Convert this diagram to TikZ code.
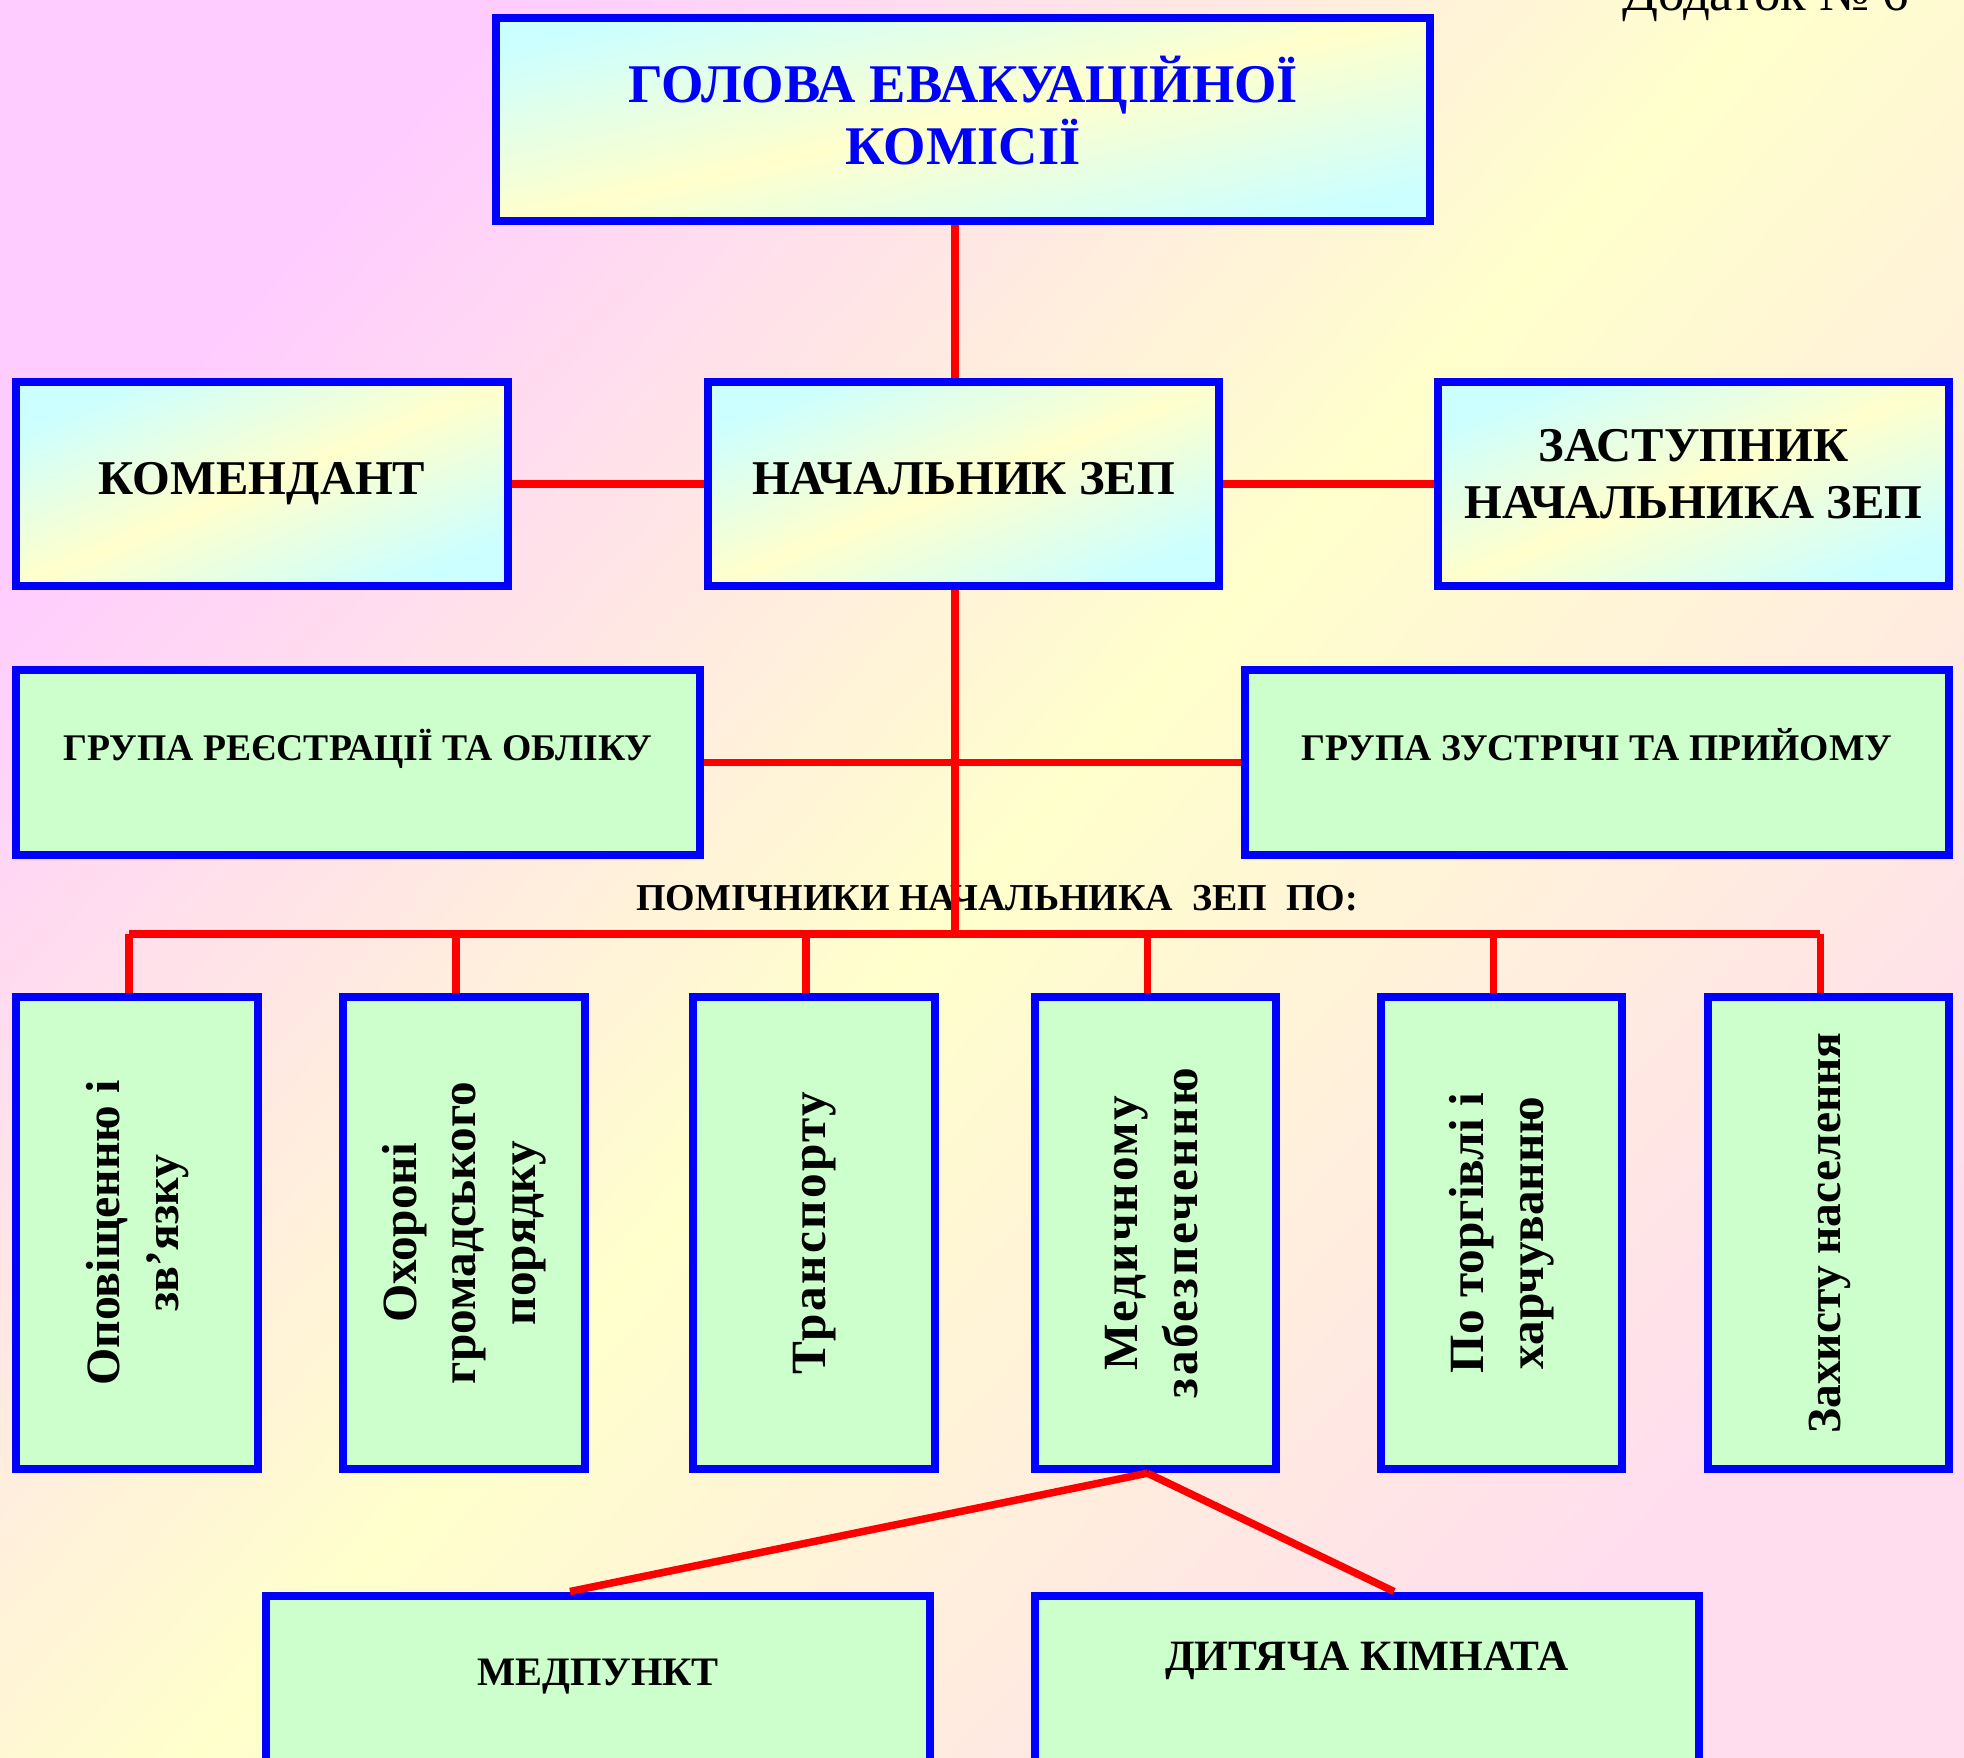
\documentclass[tikz,border=0pt]{standalone}
\usepackage{fontspec}
\setmainfont{Liberation Serif}
\usetikzlibrary{positioning}

\definecolor{bgpink}{HTML}{FFCCFF}
\definecolor{bgyellow}{HTML}{FFFFCC}
\definecolor{bgrose}{HTML}{FFDDEE}
\definecolor{boxcyan}{HTML}{CCFFFF}
\definecolor{boxyellow}{HTML}{FFFFCC}
\definecolor{boxgreen}{HTML}{CCFFCC}
\definecolor{boxblue}{HTML}{0000FF}
\definecolor{linkred}{HTML}{FF0000}

\newcommand{\vlabel}[1]{\rotatebox{90}{\begin{tabular}{@{}c@{}}#1\end{tabular}}}
\newcommand{\wide}[1]{\addfontfeature{LetterSpace=#1}}

\begin{document}
\begin{tikzpicture}[x=0.01cm, y=-0.01cm,
    linestyle/.style={draw=linkred, line width=0.075cm},
    frame/.style={rectangle, draw=boxblue, line width=0.08cm, inner sep=0pt, align=center},
    leader/.style={frame, top color=boxcyan, bottom color=boxcyan, middle color=boxyellow,
        shading angle=21.8, minimum width=5.11cm, minimum height=2.04cm,
        text height=0.34cm, text depth=0.14cm,
        font=\bfseries\fontsize{13.8}{16}\selectfont},
    group/.style={frame, fill=boxgreen, font=\bfseries\fontsize{10.7}{13}\selectfont},
    assist/.style={group, minimum width=2.41cm, minimum height=4.72cm,
        font=\bfseries\fontsize{14}{17}\selectfont},
    post/.style={group, anchor=north, minimum width=6.64cm, text depth=2cm,
        font=\bfseries\fontsize{12}{14}\selectfont}
]
\useasboundingbox (0,0) rectangle (1964,1757);
\clip (0,0) rectangle (1964,1757);
\shade[top color=bgpink, bottom color=bgrose, middle color=bgyellow, shading angle=48]
  (0,0) rectangle (1964,1757);

\node (Annex) [anchor=base east, inner sep=0pt, font=\fontsize{15}{17}\selectfont] at (1910,10)
    {Додаток № 6};

% top
\node (Head) [leader, minimum width=9.34cm, minimum height=2.03cm, shading angle=12.6,
    text=boxblue, text height=0.98cm, text depth=0.08cm,
    font=\bfseries\fontsize{15.5}{17.5}\selectfont] at (963,119.5)
    {ГОЛОВА ЕВАКУАЦІЙНОЇ\\КОМІСІЇ};
\node (Commandant) [leader, minimum width=4.91cm, shading angle=22.6] at (262,484) {КОМЕНДАНТ};
\node (Chief) [leader] at (963.5,484) {НАЧАЛЬНИК ЗЕП};
\node (Deputy) [leader, text height=0.88cm, text depth=0.20cm] at (1693.5,484)
    {ЗАСТУПНИК\\НАЧАЛЬНИКА ЗЕП};

% groups
\node (Registration) [group, minimum width=6.83cm, minimum height=1.85cm,
    text height=0.30cm, text depth=0.34cm] at (358,762.5) {ГРУПА РЕЄСТРАЦІЇ ТА ОБЛІКУ};
\node (Reception) [group, minimum width=7.04cm, minimum height=1.85cm,
    text height=0.30cm, text depth=0.34cm] at (1597,762.5) {ГРУПА ЗУСТРІЧІ ТА ПРИЙОМУ};

\node (AssistTitle) [font=\bfseries\fontsize{10.8}{13}\selectfont] at (997,898)
    {ПОМІЧНИКИ НАЧАЛЬНИКА\ \ ЗЕП\ \ ПО:};

% assistants
\node (Assist01) [assist] at (137,1233)
    {\vlabel{\fontsize{13.6}{17}\selectfont Оповіщенню і\\\fontsize{13.6}{17}\selectfont зв’язку}};
\node (Assist02) [assist] at (464,1233) {\vlabel{Охороні\\громадського\\порядку}};
\node (Assist03) [assist] at (814,1233) {\vlabel{\wide{5}Транспорту}};
\node (Assist04) [assist] at (1155.5,1233) {\vlabel{\wide{4}Медичному\\\wide{5}забезпеченню}};
\node (Assist05) [assist] at (1501.5,1233) {\vlabel{По торгівлі і\\харчуванню}};
\node (Assist06) [assist] at (1828.5,1233)
    {\vlabel{\fontsize{13.5}{17}\selectfont Захисту населення}};

\node (Aid) [post, text height=0.895cm, font=\bfseries\fontsize{11.5}{14}\selectfont]
    at (598,1591.5) {МЕДПУНКТ};
\node (Nursery) [post, text height=0.745cm, font=\bfseries\fontsize{12.3}{14}\selectfont]
    at (1367,1591.5) {ДИТЯЧА КІМНАТА};

\coordinate (Bus) at (955,934);
\coordinate (BusLeft) at (129,934);
\coordinate (BusRight) at (1820,934);

\draw[linestyle] (Head.south -| Bus) -- (Chief.north -| Bus);
\draw[linestyle] (Commandant.east) -- (Chief.west);
\draw[linestyle] (Chief.east) -- (Deputy.west);
\draw[linestyle] (Chief.south -| Bus) -- (Bus);
\draw[linestyle] (Registration.east) -- (Reception.west);
\draw[linestyle] (BusLeft) -- (BusRight);
\foreach \n in {01,02,03,04,05,06}
  \draw[linestyle] ([xshift=-0.08cm]Assist\n.north) -- ([xshift=-0.08cm]Assist\n.north |- Bus);
\draw[linestyle] ([xshift=-0.08cm]Assist04.south) -- ([xshift=-0.28cm]Aid.north);
\draw[linestyle] ([xshift=-0.08cm]Assist04.south) -- ([xshift=0.27cm]Nursery.north);

\end{tikzpicture}
\end{document}
